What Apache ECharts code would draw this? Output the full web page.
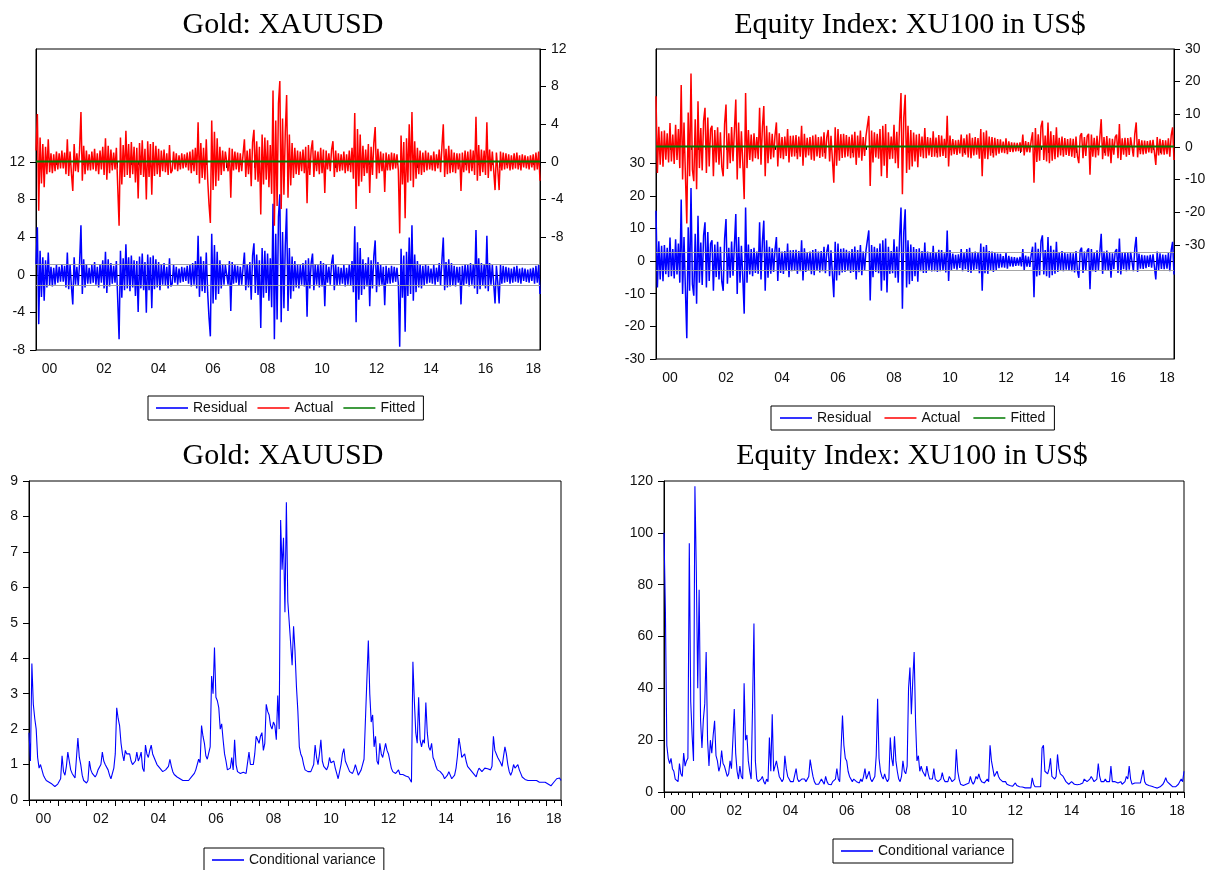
<!DOCTYPE html>
<html>
<head>
<meta charset="utf-8">
<title>Gold and XU100: residuals and conditional variance</title>
<script src="https://cdn.jsdelivr.net/npm/echarts@6.0.0/dist/echarts.min.js"></script>
<style>
html,body{margin:0;padding:0;background:#ffffff;}
#chart{width:1212px;height:870px;}
</style>
</head>
<body>
<div id="chart"></div>
<script>
// ---------------- data ----------------
const startYear = 2000;
const endYear = 2018.5;
const pointsPerYear = 20;               // one observation every 1/20 year
const yearTickLabels = ['00','02','04','06','08','10','12','14','16','18'];
const panelTitles = ['Gold: XAUUSD', 'Equity Index: XU100 in US$', 'Gold: XAUUSD', 'Equity Index: XU100 in US$'];
const fitLegend = ['Residual', 'Actual', 'Fitted'];
const varLegend = ['Conditional variance'];

const goldLeftTicks = [-8, -4, 0, 4, 8, 12];
const goldRightTicks = [-8, -4, 0, 4, 8, 12];
const equityLeftTicks = [-30, -20, -10, 0, 10, 20, 30];
const equityRightTicks = [-30, -20, -10, 0, 10, 20, 30];

const goldFitted = 0.05;     // constant mean equation
const equityFitted = 0.1;
const goldSE = 1.1;          // +/- 1 S.E. bands of residual
const equitySE = 2.7;

const goldActual = [
  1.2, 5.1, -5.2, 2.6, -2.3, 1.9, -2.7, 1.6, -1.3, 2.4, -1.1, 0.9, -1.2, 0.8, -1.0, 1.1, -0.8, 0.9, -0.7, 1.2,
  -0.7, 1.0, -1.3, 2.4, -1.5, 1.1, -1.2, -3.1, 1.9, -1.0, 0.9, -1.1, 1.3, 5.3, -2.0, 1.7, -1.3, 1.2, -0.9, 0.8,
  -0.9, 1.1, -0.8, 1.4, -1.0, 0.9, -1.3, 1.2, -0.8, 1.6, -1.4, 2.5, -1.9, 1.7, -1.2, 1.3, -0.9, 1.0, -0.8, 1.5,
  1.3, -6.8, 2.6, -2.4, 1.8, -1.6, 3.3, -1.4, 1.9, -1.7, 2.1, -1.3, 1.6, -2.2, 1.5, -3.9, 2.0, -1.4, 2.3, -1.6,
  1.4, -4.0, 2.2, -1.6, 1.9, -3.5, 2.1, -1.5, 1.7, -1.3, 1.4, -1.6, 1.2, -1.0, 1.3, -1.1, 0.9, -1.4, 1.8, -1.2,
  -0.9, 1.1, -0.8, 0.9, -1.0, 0.7, -0.8, 0.9, -0.7, 0.8, -0.6, 1.0, -0.9, 1.1, -1.2, 1.3, -1.0, 1.5, -1.4, 4.2,
  -2.3, 2.0, -1.7, 1.5, -1.9, 2.4, -1.8, -4.5, -6.5, 4.4, -3.0, 3.2, -2.6, 2.5, -2.0, 1.6, -1.4, 1.2, -1.0, 1.1,
  0.9, -1.0, 1.5, -3.8, 1.4, -0.9, 1.1, -0.8, 1.0, -1.1, 0.9, -1.0, 0.8, 2.4, -1.6, 1.2, -1.3, 1.4, -2.6, 2.1,
  3.4, -1.9, 2.2, -2.1, 1.6, -5.6, 2.9, -2.4, 2.6, -1.9, 2.3, -2.7, 1.8, -3.4, 7.6, -6.8, 4.4, -4.7, 6.2, 8.6,
  -5.0, 4.6, -3.5, 3.1, 7.1, -3.8, 2.9, -2.5, 2.0, -1.7, 1.5, -1.3, 1.2, -1.4, 1.1, -1.0, 1.3, -1.2, 1.6, -4.4,
  1.8, -1.4, 1.3, 2.3, -1.6, 1.2, -1.0, 1.1, -1.3, 1.5, -1.2, 1.3, -3.3, 1.2, -0.8, 0.9, -1.0, 1.3, 2.2, -1.6,
  1.2, -1.1, 0.9, -1.0, 0.8, -0.9, 1.1, -1.2, 0.8, -1.0, 1.2, -1.1, 1.5, -1.8, 5.2, -5.0, 3.5, -2.6, 2.9, -2.1,
  1.7, -1.5, 1.3, -1.2, 1.9, -3.3, 1.6, -1.4, 2.0, 3.7, -1.8, 1.4, -1.2, 1.1, -1.0, 0.9, -3.2, 1.0, -0.9, 0.8,
  -0.9, 1.0, -0.8, 0.9, -0.7, 0.8, -0.9, -7.6, 2.8, -2.4, 2.1, -6.0, 2.5, -2.2, 4.0, -2.0, 5.3, -2.7, 2.2, -1.8,
  1.5, -1.3, 1.2, -1.4, 1.0, -1.1, 1.2, -0.9, 1.0, -0.8, 0.7, -0.9, 1.1, -1.0, 0.8, -0.7, 1.3, -1.1, 1.6, 4.0,
  -1.6, 1.4, -1.3, 1.7, -1.2, 1.3, -1.1, 1.0, -1.2, 0.9, -0.8, 0.9, -3.1, 1.0, -1.1, 1.2, -0.9, 1.1, -1.2, 1.3,
  -1.0, 1.2, -1.4, 4.8, -2.0, 1.8, -1.5, 1.3, -1.1, 1.2, -1.4, 4.2, -1.7, 1.3, -1.0, 1.1, -0.9, -3.0, 1.0, -0.8,
  -3.0, 1.1, -0.9, 1.0, -0.8, 0.9, -0.7, 0.8, -0.9, 0.7, -0.8, 0.9, -0.7, 1.0, -0.8, 0.7, -0.9, 0.8, -0.6, 0.7,
  -0.7, 0.6, -0.8, 0.7, -0.6, 0.8, -0.9, 1.0, -0.8, 1.1, -2.0
];

const equityActual = [
  15.5, -8.0, 6.2, -5.5, 4.8, -6.1, 5.0, -3.9, 4.2, -4.8, 7.3, -4.5, 3.8, -5.2, 6.8, -4.0, 5.5, -6.5, 19.0, -10.0,
  7.5, -8.5, -23.5, 10.5, -9.0, 22.5, -7.0, -10.5, 8.5, -13.0, 14.0, -6.5, 5.8, -7.2, 8.0, 12.0, -8.0, 9.0, -6.0, 5.5,
  6.5, -9.0, 5.2, -4.8, 6.0, -5.5, 4.5, -6.2, -9.0, 7.0, 13.0, -6.8, 4.2, -5.0, 6.1, -4.4, 5.0, 14.5, -10.0, 7.5,
  -6.5, 4.8, -5.0, -16.0, 16.5, -6.5, 5.2, -4.0, 3.8, -4.5, 4.2, -3.5, 3.0, -3.8, 12.0, -5.5, 6.0, 12.5, -9.0, 6.5,
  -5.0, 4.5, -3.8, 4.0, -3.2, 3.5, 7.5, -6.0, 4.2, -3.5, 3.0, -3.8, 3.2, -2.8, 5.5, -4.8, 3.4, -3.0, 3.5, -2.9,
  3.6, -3.8, 3.2, -3.0, 6.5, -5.8, 4.0, -3.2, 2.8, -2.6, 3.0, -3.9, 3.5, -4.2, 3.8, -2.9, 3.0, -3.4, 3.2, -3.0,
  4.5, -3.6, 3.0, 5.2, -4.5, 3.4, -3.8, -11.0, 6.0, -5.8, 5.5, -4.2, 3.9, -3.4, 4.0, -3.2, 3.6, -2.9, 3.1, -3.5,
  3.8, -3.2, 4.6, -5.5, 3.5, -3.3, 5.0, -4.2, 3.0, -2.8, 3.4, 6.5, 9.5, -12.0, 5.0, -4.8, 4.5, -3.2, 4.0, -3.6,
  5.5, -9.0, 6.5, -5.8, 7.0, -9.5, 4.5, -3.8, 3.2, -3.6, 6.8, -5.0, 4.6, -6.5, 7.5, 16.5, -14.5, 9.0, 16.0, -8.0,
  6.5, -7.0, 5.2, -6.0, 4.4, -4.5, 3.8, -6.2, 4.0, -3.0, 3.2, -3.5, 5.8, -3.5, 3.0, -2.6, 2.8, -3.1, 4.8, -3.0,
  2.9, -3.2, 3.6, -3.0, 3.5, -2.8, 2.5, -3.4, 9.5, -6.0, 3.5, -2.6, 2.4, -2.2, 2.0, -2.5, 2.2, -2.0, 3.8, -3.0,
  2.6, -2.4, 3.8, -3.2, 4.2, -3.5, 2.8, -2.6, 3.0, -2.4, 2.7, -3.6, 5.5, -9.0, 4.5, -3.6, 5.0, -3.8, 3.2, -2.7,
  3.0, -3.2, 2.8, -2.6, 2.4, -2.1, 2.3, -1.8, 1.6, -1.9, 2.6, -2.2, 1.7, -1.5, 1.4, -1.6, 1.3, -1.4, 1.2, -1.3,
  1.4, -1.5, 3.8, -2.6, 1.8, -1.6, 1.5, -1.7, 2.0, 4.5, -11.0, 5.8, -4.6, 3.9, -4.2, 6.2, 8.0, -4.0, 3.5, -4.5,
  7.5, -5.0, 4.8, -4.2, 3.6, -3.8, 6.0, -3.2, 2.8, -2.6, 3.2, -3.0, 2.7, -2.5, 2.4, -2.8, 2.6, -3.0, 2.5, -3.4,
  3.2, -2.8, -5.0, 3.4, 4.2, -3.5, 3.0, -2.8, 3.3, 4.0, -8.5, 3.8, -3.0, 2.8, -3.2, 3.4, -2.6, 2.9, 8.5, -3.8,
  3.0, -2.7, 3.3, -2.9, 2.6, -5.0, 2.5, -2.4, 3.0, 3.8, -3.5, 7.0, -4.0, 2.6, -2.4, 2.8, -3.0, 2.7, -2.5, 2.9,
  3.4, -3.0, 4.0, 7.5, -3.2, 2.4, -2.2, 2.0, -2.3, 1.9, -2.1, 1.8, -1.7, 2.0, -1.9, 2.2, 2.8, -5.5, 3.0, -2.6,
  2.5, -2.3, 2.1, -2.4, 2.0, -2.2, 2.6, -3.0, 3.5, 6.0, -4.0
];

const goldVariance = [
  1.9, 1.1, 3.85, 2.7, 2.3, 2.0, 1.2, 0.9, 1.0, 0.85, 0.7, 0.62, 0.55, 0.52, 0.5, 0.47, 0.45, 0.42, 0.38, 0.42,
  0.45, 0.5, 0.6, 1.25, 0.8, 0.7, 0.95, 1.35, 1.1, 0.85, 0.75, 0.7, 0.62, 0.65, 1.75, 1.2, 1.0, 0.7, 0.55, 0.5,
  0.48, 0.55, 1.1, 0.85, 0.75, 0.7, 0.65, 0.72, 0.85, 0.8, 1.0, 1.35, 1.1, 1.0, 0.95, 0.85, 0.7, 0.6, 0.55, 0.9,
  1.3, 2.6, 2.3, 2.1, 1.6, 1.3, 1.1, 1.4, 1.3, 1.25, 1.3, 1.1, 1.0, 0.95, 1.1, 1.35, 1.1, 1.2, 1.35, 0.9,
  0.8, 1.55, 1.3, 1.2, 1.4, 1.55, 1.3, 1.2, 1.1, 1.0, 1.05, 0.9, 0.85, 0.8, 0.75, 0.85, 0.8, 0.95, 1.15, 0.95,
  0.8, 0.72, 0.68, 0.65, 0.62, 0.6, 0.58, 0.55, 0.52, 0.55, 0.58, 0.55, 0.6, 0.65, 0.7, 0.75, 0.85, 0.9, 1.15, 1.05,
  2.1, 1.8, 1.6, 1.25, 1.15, 1.2, 1.5, 3.5, 3.0, 4.3, 2.9, 2.8, 2.6, 2.0, 2.15, 1.7, 1.3, 1.1, 0.85, 0.8,
  0.9, 1.2, 0.85, 1.7, 1.0, 0.8, 0.78, 0.75, 0.8, 0.78, 0.8, 0.75, 0.7, 1.35, 1.0, 0.95, 1.0, 1.3, 1.8, 1.7,
  1.6, 1.8, 1.9, 1.4, 1.6, 2.7, 2.5, 2.4, 2.1, 2.0, 2.2, 2.1, 1.7, 2.95, 2.0, 7.9, 6.5, 7.4, 5.3, 8.4,
  5.6, 5.0, 4.4, 3.8, 4.9, 4.2, 3.2, 2.5, 1.5, 1.3, 1.2, 1.0, 0.85, 0.9, 0.8, 0.82, 0.8, 0.9, 1.0, 1.55,
  1.2, 1.0, 1.3, 1.7, 1.1, 0.95, 0.9, 0.85, 0.95, 1.2, 1.05, 1.0, 1.1, 0.9, 0.75, 0.6, 0.8, 1.0, 1.3, 1.45,
  1.1, 1.0, 0.9, 0.8, 0.78, 0.75, 0.85, 1.0, 0.85, 0.7, 0.75, 0.85, 0.8, 1.15, 1.2, 3.4, 4.5, 3.0, 2.2, 2.4,
  1.5, 1.8, 1.1, 1.0, 1.6, 1.3, 1.2, 1.4, 1.6, 1.4, 1.3, 1.1, 0.9, 0.8, 0.85, 0.75, 0.7, 0.85, 0.72, 0.75,
  0.72, 0.7, 0.68, 0.7, 0.65, 0.6, 0.5, 3.9, 2.8, 1.9, 1.6, 2.9, 1.7, 1.5, 1.7, 1.6, 2.75, 1.9, 1.5, 1.4,
  1.6, 1.2, 1.1, 0.95, 0.85, 0.9, 0.8, 0.85, 0.7, 0.6, 0.55, 0.7, 0.8, 0.75, 0.6, 0.55, 0.7, 0.9, 1.25, 1.75,
  1.5, 1.2, 1.25, 1.3, 1.1, 0.95, 1.0, 0.85, 0.9, 0.75, 0.7, 0.65, 0.8, 0.9, 0.85, 0.8, 0.85, 0.9, 0.95, 0.88,
  0.9, 0.85, 0.95, 1.8, 1.4, 1.35, 1.2, 1.15, 1.05, 0.95, 1.0, 1.5, 1.3, 1.0, 0.8, 0.7, 0.8, 1.0, 0.9, 0.85,
  1.0, 0.85, 0.75, 0.65, 0.6, 0.58, 0.55, 0.55, 0.6, 0.55, 0.53, 0.55, 0.6, 0.55, 0.52, 0.5, 0.55, 0.5, 0.48, 0.5,
  0.48, 0.45, 0.42, 0.4, 0.45, 0.5, 0.55, 0.6, 0.55, 0.62, 0.55
];

const equityVariance = [
  100, 70, 18, 13, 11, 13, 9, 8, 5, 4.5, 4, 11, 7, 6, 15, 10, 12, 13, 96, 35,
  22, 12, 118, 85, 40, 78, 28, 17, 28, 34, 54, 20, 10, 20, 15, 22, 27.5, 14, 12, 8,
  10, 16, 11, 10, 8, 6, 7, 12, 9, 20, 32, 15, 8, 5, 10, 6, 5, 42, 20, 22,
  12, 8, 5, 33, 65, 12, 5, 4, 4, 5, 6, 4, 3, 5, 4, 21, 8, 30, 8, 10,
  12, 9, 6, 5, 4, 5, 14, 9, 6, 5, 4, 3.5, 4, 4.5, 9, 5, 4, 3.5, 5, 4.5,
  5, 4, 4.5, 6, 12.5, 9, 6, 4, 3, 3.5, 3, 2.8, 5, 4, 3, 6, 4, 3, 3.5, 2.8,
  4, 3.5, 5, 9, 5, 4, 4.5, 29.5, 18, 13, 12, 8, 6, 5.5, 4, 5, 4.5, 4, 4.5, 3.5,
  5, 4, 6, 9, 5, 4.5, 8, 5, 4, 4.5, 6, 14, 36, 13, 8, 6, 5, 7, 5, 4,
  5, 21, 13, 10, 21.5, 12, 8, 5, 4, 6, 12, 8, 7, 10, 40, 48, 30, 43, 54, 27,
  12, 14, 8, 10, 8, 7, 6, 10, 7, 5, 4.5, 5, 9, 5, 4.5, 4, 4, 5, 7.5, 5,
  4, 3.5, 4, 6, 5, 4, 4, 5, 16.5, 8, 5, 3, 3, 2.5, 2.5, 3, 3, 3.5, 6, 4,
  3, 4, 6, 5, 7, 5, 4, 4.5, 3.5, 4, 5, 4, 18, 12, 9, 6, 5.5, 8, 6, 5,
  5, 4, 3.5, 4, 3, 2.8, 2.5, 2, 2.2, 2.5, 3.5, 2.5, 2.2, 2, 1.8, 1.9, 1.8, 1.6, 1.5, 1.6,
  1.5, 1.6, 5.5, 3, 2, 1.8, 2, 2.2, 2, 17, 18, 8, 7.5, 7, 9, 13, 6, 5.5, 5, 6,
  14.5, 9, 7, 6.5, 6, 6, 4, 3.5, 3, 3.5, 4, 3.5, 3, 3, 2.8, 3.2, 3, 3, 3.5, 5,
  4.5, 4, 4.5, 5, 6, 5, 4, 4.5, 5, 11, 6, 4, 4.5, 4, 5, 4, 3.5, 4, 10, 4,
  4.5, 4, 4, 3.5, 3.5, 4, 3, 3.5, 4, 6, 5, 10, 5, 3, 3.5, 3.5, 4, 3.5, 3, 3.5,
  3.5, 8.5, 4, 3, 2.5, 2.5, 2, 2.2, 2, 1.8, 2, 1.5, 1.6, 2, 2.5, 3, 4, 5.5, 4, 3.5,
  3, 2.5, 2, 2.5, 2, 2.5, 3, 3.5, 5, 4, 8
];

// ---------------- build ----------------
const toPairs = arr => arr.map((v, i) => [startYear + i / pointsPerYear, v]);
const goldResidual = goldActual.map(v => +(v - goldFitted).toFixed(3));
const equityResidual = equityActual.map(v => +(v - equityFitted).toFixed(3));
const goldFittedSeries = goldActual.map(() => goldFitted);
const equityFittedSeries = equityActual.map(() => equityFitted);

// each year label sits in the middle of the visible part of that year
const labelPositions = yearTickLabels.map(l => {
  const y0 = 2000 + Number(l);
  return (y0 + Math.min(y0 + 1, endYear)) / 2;
});
const labelFor = v => {
  let best = 0, d = Infinity;
  labelPositions.forEach((p, i) => { if (Math.abs(p - v) < d) { d = Math.abs(p - v); best = i; } });
  return yearTickLabels[best];
};

const FONT = 'Liberation Sans';
const BLACK = '#000000';
const tickFont = { color: '#111', fontSize: 14, fontFamily: FONT };

const grids = [
  { left: 36, top: 49, width: 504, height: 301 },
  { left: 656, top: 49, width: 518, height: 310 },
  { left: 29, top: 481, width: 532, height: 319 },
  { left: 664, top: 481, width: 520, height: 311 }
];

function xAxesFor(g) {
  return [
    {
      type: 'value', gridIndex: g, position: 'bottom', min: startYear, max: endYear,
      axisLine: { show: true, lineStyle: { color: BLACK, width: 1 } },
      axisTick: { show: false }, splitLine: { show: false },
      axisLabel: Object.assign({ customValues: labelPositions, margin: 12, formatter: labelFor }, tickFont)
    },
    {
      type: 'value', gridIndex: g, position: 'bottom', min: startYear, max: endYear, interval: 1,
      axisLine: { show: false }, axisLabel: { show: false }, splitLine: { show: false },
      axisTick: { show: true, length: 6, lineStyle: { color: BLACK } },
      minorTick: { show: true, splitNumber: 4, length: 3, lineStyle: { color: BLACK } }
    }
  ];
}

function yAxis(g, pos, min, max, ticks, interval) {
  const ax = {
    type: 'value', gridIndex: g, position: pos, min: min, max: max,
    axisLine: { show: true, lineStyle: { color: BLACK, width: 1 } },
    splitLine: { show: false },
    axisTick: { show: true, length: 6, lineStyle: { color: BLACK } },
    axisLabel: Object.assign({ margin: 11 }, tickFont)
  };
  if (ticks) {
    ax.axisLabel.customValues = ticks;
    ax.axisTick.customValues = ticks;
  } else {
    ax.interval = interval;
  }
  return ax;
}

function lineSeries(name, xi, yi, data, color, width, extra) {
  return Object.assign({
    name: name, type: 'line', xAxisIndex: xi, yAxisIndex: yi,
    data: toPairs(data), symbol: 'none', showSymbol: false,
    lineStyle: { color: color, width: width }, itemStyle: { color: color },
    animation: false, clip: true
  }, extra || {});
}

function seBands(se) {
  return {
    markLine: {
      silent: true, symbol: 'none', animation: false,
      label: { show: false },
      lineStyle: { color: '#9c9c9c', width: 1, type: 'solid', opacity: 0.9 },
      data: [{ yAxis: se }, { yAxis: -se }]
    }
  };
}

const legendCommon = {
  orient: 'horizontal', icon: 'rect', itemWidth: 32, itemHeight: 1.6, itemGap: 10,
  padding: [5, 8], borderColor: '#000', borderWidth: 1, backgroundColor: '#fff',
  selectedMode: false,
  textStyle: { fontSize: 14, fontFamily: FONT, color: '#111' }
};

const titleStyle = { fontFamily: 'Liberation Serif', fontSize: 30, fontWeight: 'normal', color: '#000' };
const titleCenters = [[283, 10], [910, 10], [283, 441], [912, 441]];

const option = {
  animation: false,
  backgroundColor: '#ffffff',
  title: panelTitles.map((t, i) => ({
    text: t, left: titleCenters[i][0], top: titleCenters[i][1], textAlign: 'center',
    padding: 0, textStyle: titleStyle
  })),
  legend: [
    Object.assign({}, legendCommon, { data: fitLegend, left: 148, top: 396 }),
    Object.assign({}, legendCommon, { data: fitLegend, left: 771, top: 406, itemGap: 13, padding: [5, 9] }),
    Object.assign({}, legendCommon, { data: varLegend, left: 204, top: 848 }),
    Object.assign({}, legendCommon, { data: varLegend, left: 833, top: 839 })
  ],
  grid: grids.map(g => Object.assign({ show: true, borderColor: '#000', borderWidth: 1, backgroundColor: 'transparent', containLabel: false }, g)),
  xAxis: [].concat(xAxesFor(0), xAxesFor(1), xAxesFor(2), xAxesFor(3)),
  yAxis: [
    yAxis(0, 'left', -8, 24, goldLeftTicks),
    yAxis(0, 'right', -20, 12, goldRightTicks),
    yAxis(1, 'left', -30, 65, equityLeftTicks),
    yAxis(1, 'right', -65, 30, equityRightTicks),
    yAxis(2, 'left', 0, 9, null, 1),
    yAxis(3, 'left', 0, 120, null, 20)
  ],
  series: [
    lineSeries('Residual', 0, 0, goldResidual, '#0000ff', 1.5, seBands(goldSE)),
    lineSeries('Actual', 0, 1, goldActual, '#ff0000', 1.5),
    lineSeries('Fitted', 0, 1, goldFittedSeries, '#007a00', 2),
    lineSeries('Residual', 2, 2, equityResidual, '#0000ff', 1.5, seBands(equitySE)),
    lineSeries('Actual', 2, 3, equityActual, '#ff0000', 1.5),
    lineSeries('Fitted', 2, 3, equityFittedSeries, '#007a00', 2),
    lineSeries('Conditional variance', 4, 4, goldVariance, '#0000ff', 1.1),
    lineSeries('Conditional variance', 6, 5, equityVariance, '#0000ff', 1.1)
  ]
};

const chart = echarts.init(document.getElementById('chart'), null, { renderer: 'canvas', width: 1212, height: 870 });
chart.setOption(option);
</script>
</body>
</html>
